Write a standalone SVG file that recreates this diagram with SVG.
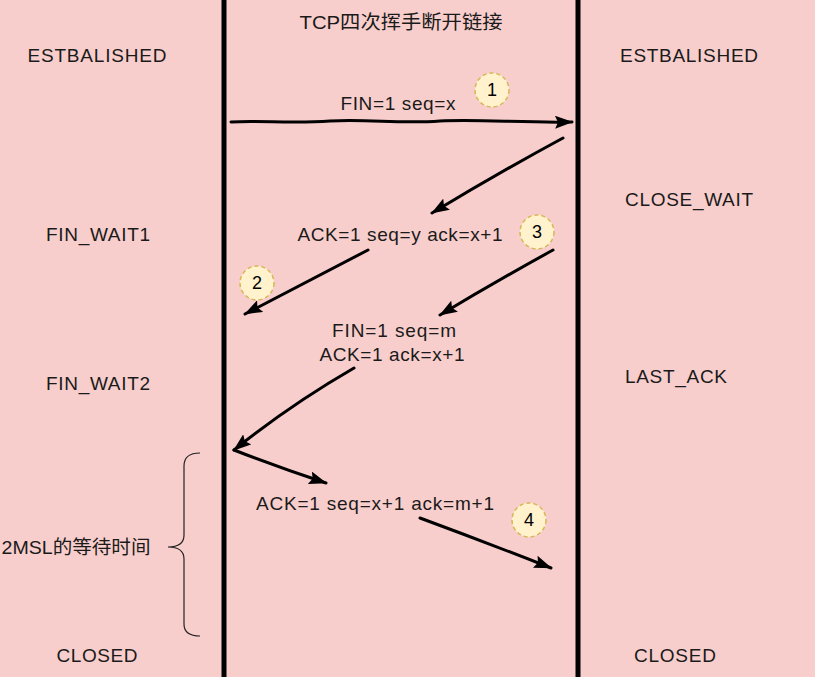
<svg xmlns="http://www.w3.org/2000/svg" width="815" height="677" viewBox="0 0 815 677">
<defs>
<style>
text{font-family:"Liberation Sans",Arial,"Noto Sans CJK SC",sans-serif;font-size:19px;fill:#1a1a1a}
.ar{fill:none;stroke:#000;stroke-width:3;stroke-linecap:round;stroke-linejoin:round}
.lane{stroke:#000;stroke-width:5}
.badge circle{fill:#FFF2CC;stroke:#D6B656;stroke-width:1.5;stroke-dasharray:4 3}
.badge text{font-size:18px;text-anchor:middle;fill:#000}
.brace{fill:none;stroke:#222;stroke-width:1.2}
</style>
<marker id="ah" viewBox="0 0 18 13" refX="17" refY="6.5" markerWidth="18" markerHeight="13" markerUnits="userSpaceOnUse" orient="auto">
<path d="M0,0 L18,6.5 L0,13 L3,6.5 Z" fill="#000"/>
</marker>
</defs>
<rect width="815" height="677" fill="#F8CECC"/>
<g id="lanes">
<line class="lane" x1="224" y1="0" x2="224" y2="677"/>
<line class="lane" x1="578" y1="0" x2="578" y2="677"/>
</g>
<g id="title"><text x="401" y="29" text-anchor="middle" textLength="203" lengthAdjust="spacingAndGlyphs">TCP四次挥手断开链接</text></g>
<g id="client-states">
<text x="97" y="62" text-anchor="middle" textLength="139">ESTBALISHED</text>
<text x="98" y="241" text-anchor="middle" textLength="104">FIN_WAIT1</text>
<text x="98" y="390" text-anchor="middle" textLength="104">FIN_WAIT2</text>
<text x="76" y="554" text-anchor="middle" textLength="149" lengthAdjust="spacingAndGlyphs">2MSL的等待时间</text>
<text x="97" y="662" text-anchor="middle" textLength="81">CLOSED</text>
</g>
<g id="server-states">
<text x="689" y="62" text-anchor="middle" textLength="138">ESTBALISHED</text>
<text x="689" y="206" text-anchor="middle" textLength="128">CLOSE_WAIT</text>
<text x="676" y="383" text-anchor="middle" textLength="102">LAST_ACK</text>
<text x="675" y="662" text-anchor="middle" textLength="82">CLOSED</text>
</g>
<g id="brace">
<path class="brace" d="M200,453 Q184,453 184,466 L184,535 Q184,547 168,547 Q184,547 184,559 L184,624 Q184,636 200,636"/>
</g>
<g id="connectors">
<path class="ar" marker-end="url(#ah)" d="M231,122 C260,120 290,124 330,121 C370,119 400,124 440,121 C480,119 520,123 572,122"/>
<path class="ar" marker-end="url(#ah)" d="M563,138 Q500,172 432,213"/>
<path class="ar" marker-end="url(#ah)" d="M368,250 Q310,280 245,314"/>
<path class="ar" marker-end="url(#ah)" d="M553,250 Q495,282 440,315"/>
<path class="ar" marker-end="url(#ah)" d="M354,368 Q290,405 234,450"/>
<path class="ar" marker-end="url(#ah)" d="M234,450 Q280,468 326,483"/>
<path class="ar" marker-end="url(#ah)" d="M420,518 Q485,542 551,568"/>
</g>
<g id="labels">
<text x="398" y="110" text-anchor="middle" textLength="115">FIN=1 seq=x</text>
<text x="400" y="241" text-anchor="middle" textLength="205">ACK=1 seq=y ack=x+1</text>
<text x="394" y="337" text-anchor="middle" textLength="124">FIN=1 seq=m</text>
<text x="392" y="361" text-anchor="middle" textLength="145">ACK=1 ack=x+1</text>
<text x="375" y="510" text-anchor="middle" textLength="238">ACK=1 seq=x+1 ack=m+1</text>
</g>
<g id="badge1" class="badge"><circle cx="492" cy="90" r="17"/><text x="492" y="96">1</text></g>
<g id="badge2" class="badge"><circle cx="257" cy="283" r="17"/><text x="257" y="289">2</text></g>
<g id="badge3" class="badge"><circle cx="537" cy="232" r="17"/><text x="537" y="238">3</text></g>
<g id="badge4" class="badge"><circle cx="529" cy="520" r="17"/><text x="529" y="526">4</text></g>
</svg>
